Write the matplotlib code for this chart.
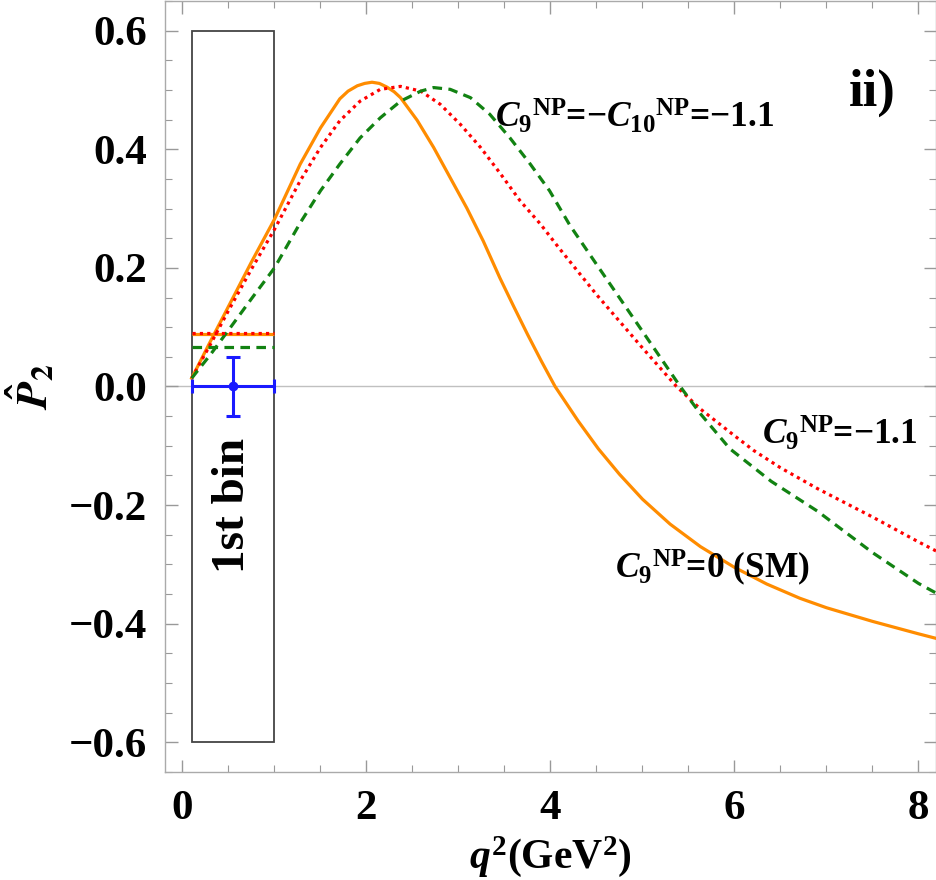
import numpy as np
import matplotlib
matplotlib.use("Agg")
import matplotlib.pyplot as plt
from matplotlib.ticker import MultipleLocator
from matplotlib.patches import Rectangle

plt.rcParams['font.family'] = ['Liberation Serif', 'DejaVu Serif']
plt.rcParams['font.weight'] = 'bold'
plt.rcParams['mathtext.fontset'] = 'custom'
plt.rcParams['mathtext.rm'] = 'Liberation Serif:bold'
plt.rcParams['mathtext.it'] = 'Liberation Serif:bold:italic'
plt.rcParams['mathtext.bf'] = 'Liberation Serif:bold'

# SM curve, C9NP = 0
q2_sm = [0.1, 0.3, 0.5, 0.75, 1.0, 1.28, 1.5, 1.71, 1.8, 1.9, 1.98, 2.06, 2.14, 2.22,
         2.3, 2.37, 2.55, 2.73, 2.91, 3.09, 3.27, 3.45, 3.6, 3.75, 3.9, 4.05, 4.3, 4.52,
         4.75, 5.0, 5.3, 5.63, 6.0, 6.35, 6.71, 7.0, 7.5, 8.0, 8.2]
p2_sm = [0.014, 0.075, 0.135, 0.21, 0.282, 0.375, 0.436, 0.485, 0.498, 0.507, 0.511,
         0.513, 0.511, 0.505, 0.497, 0.487, 0.449, 0.403, 0.352, 0.301, 0.245, 0.183,
         0.135, 0.088, 0.043, 0.0, -0.058, -0.105, -0.148, -0.19, -0.232, -0.27, -0.305,
         -0.333, -0.357, -0.373, -0.396, -0.417, -0.425]

# C9NP = -1.1
q2_c9 = [0.1, 0.3, 0.5, 0.75, 1.0, 1.28, 1.5, 1.71, 1.93, 2.15, 2.37, 2.59, 2.8, 3.02,
         3.24, 3.45, 3.67, 3.89, 4.09, 4.5, 5.0, 5.37, 5.63, 6.0, 6.21, 6.5, 6.9, 7.5,
         8.0, 8.2]
p2_c9 = [0.014, 0.07, 0.128, 0.198, 0.265, 0.347, 0.403, 0.448, 0.481, 0.501, 0.506,
         0.498, 0.476, 0.442, 0.403, 0.36, 0.313, 0.274, 0.234, 0.155, 0.065, 0.0,
         -0.038, -0.083, -0.108, -0.137, -0.172, -0.22, -0.262, -0.278]

# C9NP = -C10NP = -1.1
q2_c910 = [0.1, 0.3, 0.5, 0.75, 1.0, 1.28, 1.5, 1.71, 1.93, 2.15, 2.37, 2.59, 2.73, 2.91,
           3.13, 3.34, 3.56, 3.78, 3.99, 4.21, 4.5, 5.0, 5.41, 5.63, 5.95, 6.4, 6.9, 7.5,
           8.0, 8.2]
p2_c910 = [0.014, 0.053, 0.095, 0.148, 0.2, 0.276, 0.33, 0.375, 0.419, 0.453, 0.481,
           0.498, 0.504, 0.501, 0.487, 0.459, 0.419, 0.375, 0.33, 0.272, 0.206, 0.093,
           0.0, -0.046, -0.105, -0.16, -0.21, -0.28, -0.332, -0.349]

# first bin [0.1, 1.0]: binned predictions and measurement
bin_lo, bin_hi = 0.1, 1.0
bin_sm, bin_c9, bin_c910 = 0.089, 0.09, 0.066
meas_x, meas_y, meas_err = 0.55, 0.0, 0.05

orange = '#ff8c00'
red = '#ff0000'
green = '#128212'
blue = '#1a1aff'
dot = (0, (1, 1.3))
dash = (0, (3, 2))

fig = plt.figure(figsize=(9.37, 8.8), dpi=100)
ax = fig.add_axes([0.1761, 0.1227, 0.8228, 0.8762])

ax.axhline(0, color='#c0c0c0', lw=1.0, zorder=1)

ax.add_patch(Rectangle((bin_lo, -0.6), bin_hi - bin_lo, 1.2, fill=False,
                       edgecolor='#444444', lw=1.3, zorder=2))

ax.plot(q2_sm, p2_sm, color=orange, lw=2.3, zorder=3)
ax.plot(q2_c9, p2_c9, color=red, lw=2.3, linestyle=dot, zorder=4)
ax.plot(q2_c910, p2_c910, color=green, lw=2.3, linestyle=dash, zorder=4)

ax.hlines(bin_sm, bin_lo, bin_hi, color=orange, lw=2.3, zorder=3)
ax.hlines(bin_c9, bin_lo, bin_hi, color=red, lw=2.3, linestyles=[dot], zorder=4)
ax.hlines(bin_c910, bin_lo, bin_hi, color=green, lw=2.3, linestyles=[dash], zorder=4)

ax.errorbar([meas_x], [meas_y], xerr=[[meas_x - bin_lo], [bin_hi - meas_x]],
            yerr=[meas_err], fmt='o', color=blue, ms=6, lw=2.2, capsize=5,
            capthick=2.2, zorder=5)

ax.set_xlim(-0.19, 8.19)
ax.set_ylim(-0.65, 0.65)
ax.xaxis.set_major_locator(MultipleLocator(2))
ax.xaxis.set_minor_locator(MultipleLocator(0.5))
ax.yaxis.set_major_locator(MultipleLocator(0.2))
ax.yaxis.set_minor_locator(MultipleLocator(0.05))
ax.xaxis.set_major_formatter(plt.FuncFormatter(lambda v, p: f"{v:.0f}"))
ax.yaxis.set_major_formatter(plt.FuncFormatter(
    lambda v, p: ("\u2212" if v < -1e-9 else "") + f"{abs(v):.1f}"))

for s in ax.spines.values():
    s.set_color('#aaaaaa')
    s.set_linewidth(1.0)
ax.tick_params(which='both', direction='in', top=True, right=True, color='#999999')
ax.tick_params(which='major', length=9, width=1.0, labelsize=31, pad=13)
ax.tick_params(which='minor', length=5, width=0.8)

ax.set_xlabel(r'$q^{\mathbf{2}}$(GeV$^{\mathbf{2}}$)', fontsize=30, fontweight='bold')
ax.xaxis.set_label_coords(0.5, -0.08)
ax.set_ylabel(r'$\hat{\mathbfit{P}}_{\mathbf{2}}$', fontsize=32, math_fontfamily='stix')
ax.yaxis.set_label_coords(-0.14, 0.5)

ax.text(0.55, -0.2, '1st bin', rotation=90, ha='center', va='center', fontsize=34)
ax.text(7.5, 0.495, 'ii)', ha='center', va='center', fontsize=38)
ax.text(3.4, 0.455, r'${C_{\mathbf{9}}}^{\mathrm{NP}}$=$-$${C_{\mathbf{10}}}^{\mathrm{NP}}$=$-$1.1',
        ha='left', va='center', fontsize=25.5)
ax.text(6.3, -0.08, r'${C_{\mathbf{9}}}^{\mathrm{NP}}$=$-$1.1', ha='left', va='center',
        fontsize=25.5)
ax.text(4.7, -0.305, r'${C_{\mathbf{9}}}^{\mathrm{NP}}$=0 (SM)', ha='left', va='center',
        fontsize=25.5)

fig.savefig('out.png', dpi=100)
